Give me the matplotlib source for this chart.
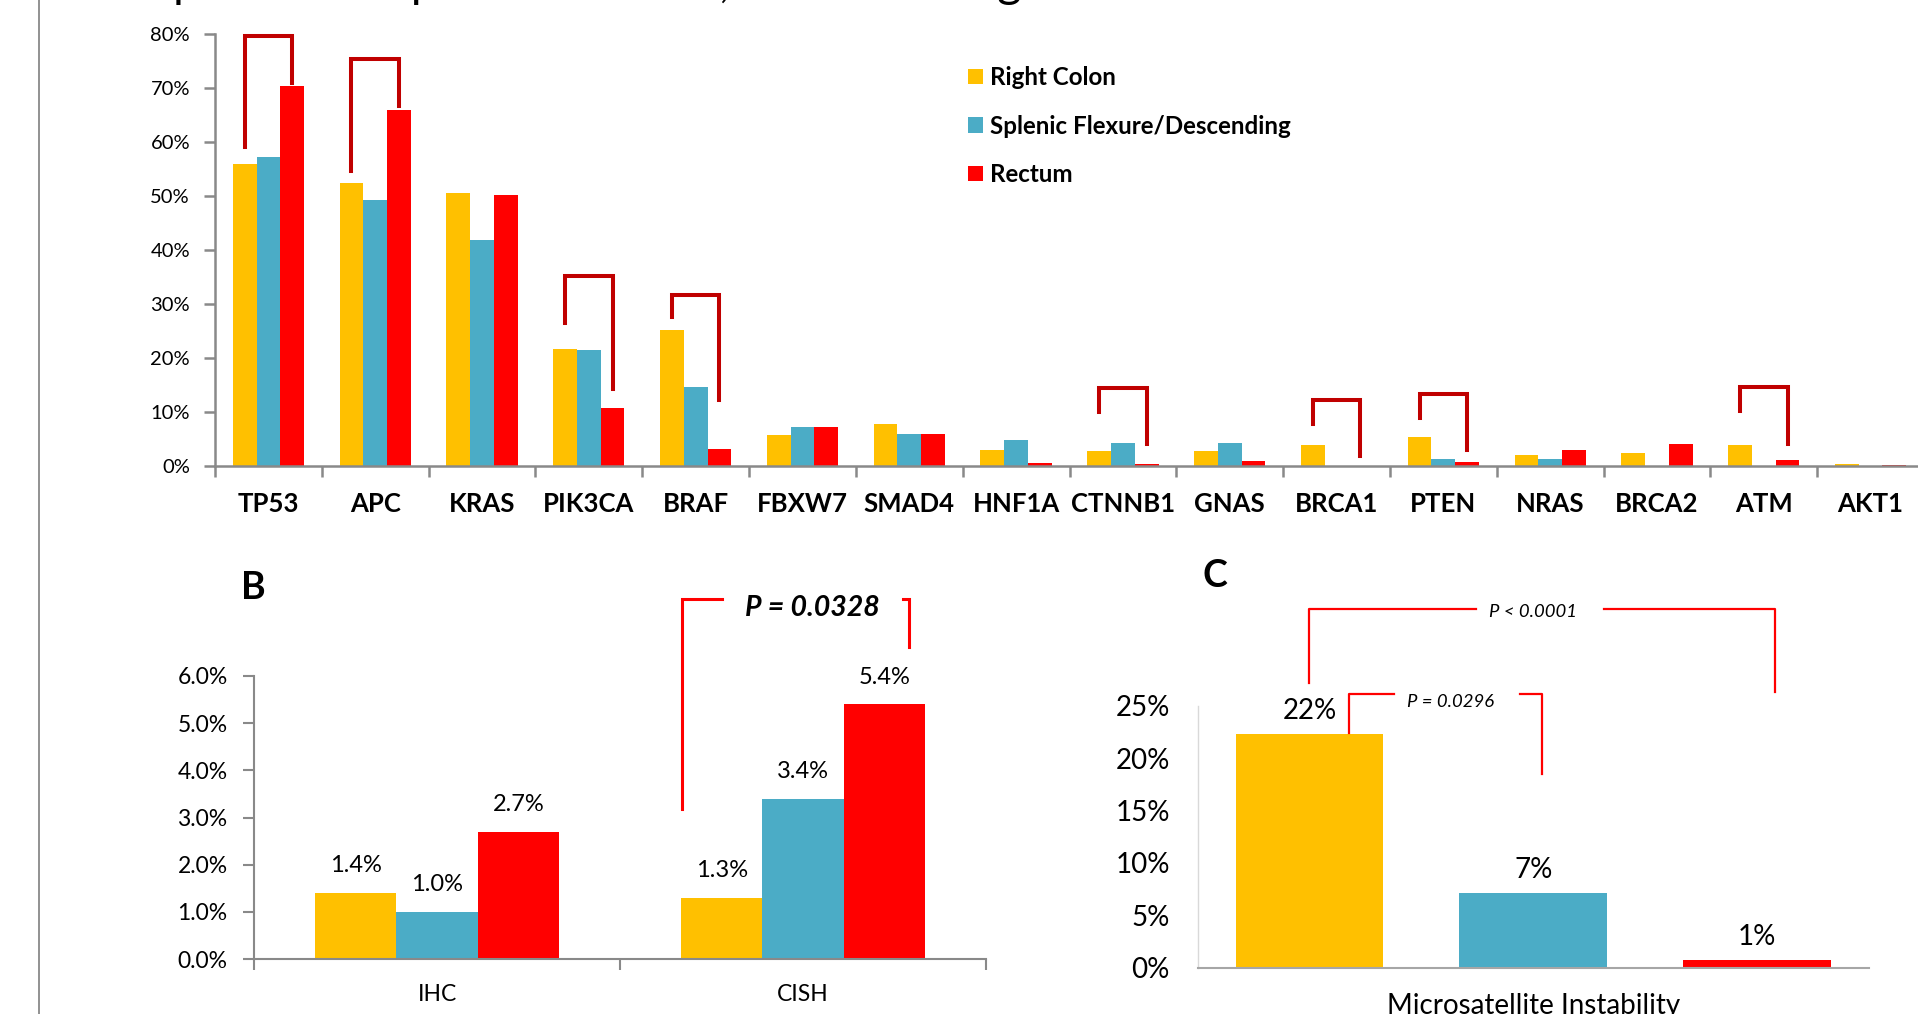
import matplotlib
matplotlib.use("Agg")
import matplotlib.pyplot as plt
import numpy as np
from matplotlib.ticker import FuncFormatter

plt.rcParams['font.family'] = ['Lato', 'DejaVu Sans']

# ---------------- data ----------------
genes = ["TP53", "APC", "KRAS", "PIK3CA", "BRAF", "FBXW7", "SMAD4", "HNF1A",
         "CTNNB1", "GNAS", "BRCA1", "PTEN", "NRAS", "BRCA2", "ATM", "AKT1"]
series_names = ["Right Colon", "Splenic Flexure/Descending", "Rectum"]
right_colon = [55.9, 52.5, 50.5, 21.6, 25.2, 5.7, 7.8, 3.0, 2.7, 2.7, 3.8, 5.3, 2.1, 2.5, 3.9, 0.4]
splenic_desc = [57.3, 49.2, 41.8, 21.5, 14.7, 7.3, 6.0, 4.8, 4.3, 4.3, 0.0, 1.3, 1.3, 0.0, 0.0, 0.0]
rectum = [70.4, 65.9, 50.1, 10.7, 3.1, 7.3, 6.0, 0.6, 0.3, 0.9, 0.0, 0.8, 3.0, 4.1, 1.1, 0.2]

# significance brackets in panel A (gene, left-leg bottom, top, right-leg bottom) in %
bracket_genes = ["TP53", "APC", "PIK3CA", "BRAF", "CTNNB1", "BRCA1", "PTEN", "ATM"]
bracket_left = [59.0, 54.6, 26.5, 27.6, 10.0, 7.8, 8.9, 10.2]
bracket_top = [79.7, 75.3, 35.1, 31.7, 14.4, 12.3, 13.4, 14.6]
bracket_right = [71.0, 66.6, 14.3, 12.3, 4.0, 1.9, 2.9, 4.0]

her2_methods = ["IHC", "CISH"]
her2_right = [1.4, 1.3]
her2_splenic = [1.0, 3.4]
her2_rectum = [2.7, 5.4]
her2_p = "P = 0.0328"

msi_label = "Microsatellite Instability"
msi_values = [22.3, 7.1, 0.7]
msi_text = ["22%", "7%", "1%"]
msi_p_outer = "P < 0.0001"
msi_p_inner = "P = 0.0296"

title_text = "Comparison of specific variants, HER-2 Changes and MSI"

colors = ["#FFC000", "#4BACC6", "#FF0000"]
dark_red = "#C00000"
axis_gray = "#898989"

W, H = 1918, 1014
fig = plt.figure(figsize=(W / 100, H / 100), dpi=100)
renderer = fig.canvas.get_renderer()


def fig_rect(left, top, right, bottom):
    return [left / W, 1 - bottom / H, (right - left) / W, (bottom - top) / H]


def text_width(s, size):
    t = fig.text(0, 0, s, fontsize=size)
    w = t.get_window_extent(renderer).width
    t.remove()
    return w


# ---------------- Panel A ----------------
axA = fig.add_axes(fig_rect(215, 34, 1924, 466))
x = np.arange(len(genes))
bw = 0.2222
for i, (vals, c, name) in enumerate(zip([right_colon, splenic_desc, rectum], colors, series_names)):
    axA.bar(x + (i - 1) * bw, vals, width=bw, color=c, label=name, zorder=2)
axA.set_xlim(-0.5, len(genes) - 0.5)
axA.set_ylim(0, 80)
axA.set_yticks(np.arange(0, 81, 10))
axA.yaxis.set_major_formatter(FuncFormatter(lambda v, p: f"{v:.0f}%"))
axA.set_xticks(x)
axA.set_xticklabels(genes, fontsize=18.5, fontweight='bold')
axA.set_xticks(np.arange(-0.5, len(genes), 1), minor=True)
axA.tick_params(axis='x', which='major', length=0, pad=19)
axA.tick_params(axis='x', which='minor', length=8, width=1.8, color=axis_gray, direction='out')
axA.tick_params(axis='y', length=8, width=1.8, color=axis_gray, labelsize=14.5, pad=10)
for s in ['top', 'right']:
    axA.spines[s].set_visible(False)
for s in ['left', 'bottom']:
    axA.spines[s].set_color(axis_gray)
    axA.spines[s].set_linewidth(1.8)

for g, lb, tp, rb in zip(bracket_genes, bracket_left, bracket_top, bracket_right):
    gi = genes.index(g)
    xl, xr = gi - bw, gi + bw
    axA.plot([xl, xl, xr, xr], [lb, tp, tp, rb], color=dark_red, lw=2.9,
             solid_joinstyle='miter', clip_on=False, zorder=3)

handles, labels = axA.get_legend_handles_labels()
leg = axA.legend(handles, labels, loc='upper left', bbox_to_anchor=(968 / W, 1 - 66 / H),
                 bbox_transform=fig.transFigure, frameon=False,
                 prop={'weight': 'bold', 'size': 17.4}, handlelength=0.6, handleheight=0.6,
                 handletextpad=0.3, labelspacing=1.06, borderpad=0, borderaxespad=0)

# partially visible title at the very top (cropped in the original slide)
t_size = 34
d1 = text_width("Comparison of s", t_size) - text_width("Com", t_size)
t_size = t_size * 238 / d1
x_start = 178 - text_width("Com", t_size) - 5
fig.text(x_start / W, 1 + 3 / H, title_text, fontsize=t_size, ha='left', va='baseline',
         color='black')

# left border line
fig.add_artist(plt.Line2D([39 / W, 39 / W], [0, 1], color='#7F7F7F', lw=1.2,
                          transform=fig.transFigure))

# ---------------- Panel B ----------------
axB = fig.add_axes(fig_rect(254, 676, 986, 959))
xb = np.arange(len(her2_methods))
for i, (vals, c) in enumerate(zip([her2_right, her2_splenic, her2_rectum], colors)):
    bars = axB.bar(xb + (i - 1) * bw, vals, width=bw, color=c, zorder=2)
    for rect, v in zip(bars, vals):
        axB.annotate(f"{v:.1f}%", (rect.get_x() + rect.get_width() / 2, v),
                     xytext=(0, 19.5), textcoords='offset points',
                     ha='center', va='center', fontsize=17)
axB.set_xlim(-0.5, len(her2_methods) - 0.5)
axB.set_ylim(0, 6)
axB.set_yticks(np.arange(0, 6.01, 1))
axB.yaxis.set_major_formatter(FuncFormatter(lambda v, p: f"{v:.1f}%"))
axB.set_xticks(xb)
axB.set_xticklabels(her2_methods, fontsize=16.5)
axB.set_xticks(np.arange(-0.5, len(her2_methods), 1), minor=True)
axB.tick_params(axis='x', which='major', length=0, pad=18)
axB.tick_params(axis='x', which='minor', length=8, width=1.5, color=axis_gray)
axB.tick_params(axis='y', length=8, width=1.5, color=axis_gray, labelsize=16.5, pad=11)
for s in ['top', 'right']:
    axB.spines[s].set_visible(False)
for s in ['left', 'bottom']:
    axB.spines[s].set_color(axis_gray)
    axB.spines[s].set_linewidth(1.5)

axB.plot([0.669, 0.669, 0.779], [3.17, 7.64, 7.64], color='#FF0000', lw=2.2, clip_on=False,
         solid_joinstyle='miter')
axB.plot([1.273, 1.29, 1.29], [7.64, 7.64, 6.62], color='#FF0000', lw=2.2, clip_on=False,
         solid_joinstyle='miter')
axB.text(1.026, 7.45, her2_p, ha='center', va='center', fontsize=20.5,
         fontweight='bold', fontstyle='italic')
fig.text(253 / W, 1 - 588 / H, "B", fontsize=27, fontweight='bold', ha='center', va='center')

# ---------------- Panel C ----------------
axC = fig.add_axes(fig_rect(1197.5, 705.8, 1869, 967.6))
xc = np.arange(len(msi_values))
bars = axC.bar(xc, msi_values, width=0.66, color=colors, zorder=2)
for rect, v, t in zip(bars, msi_values, msi_text):
    axC.annotate(t, (rect.get_x() + rect.get_width() / 2, v), xytext=(0, 16.6),
                 textcoords='offset points', ha='center', va='center', fontsize=20)
axC.set_xlim(-0.5, len(msi_values) - 0.5)
axC.set_ylim(0, 25)
axC.set_yticks(np.arange(0, 26, 5))
axC.yaxis.set_major_formatter(FuncFormatter(lambda v, p: f"{v:.0f}%"))
axC.set_xticks([])
axC.tick_params(axis='y', length=0, labelsize=20, pad=20)
for s in ['top', 'right']:
    axC.spines[s].set_visible(False)
axC.spines['left'].set_color('#D9D9D9')
axC.spines['left'].set_linewidth(1.0)
axC.spines['bottom'].set_color('#A6A6A6')
axC.spines['bottom'].set_linewidth(1.5)
axC.text(1.0, -0.178, msi_label, transform=axC.get_xaxis_transform(), ha='center',
         va='baseline', fontsize=20)

axC.plot([0, 0, 0.746], [27.2, 34.2, 34.2], color='#FF0000', lw=1.6, clip_on=False)
axC.plot([1.314, 2.08, 2.08], [34.2, 34.2, 26.3], color='#FF0000', lw=1.6, clip_on=False)
axC.text(1.0, 34.0, msi_p_outer, ha='center', va='center', fontsize=13.3, fontstyle='italic')
axC.plot([0.175, 0.175, 0.38], [22.4, 26.1, 26.1], color='#FF0000', lw=1.6, clip_on=False)
axC.plot([0.943, 1.04, 1.04], [26.1, 26.1, 18.5], color='#FF0000', lw=1.6, clip_on=False)
axC.text(0.631, 25.4, msi_p_inner, ha='center', va='center', fontsize=13.3, fontstyle='italic')
fig.text(1215 / W, 1 - 576 / H, "C", fontsize=27, fontweight='bold', ha='center', va='center')

fig.savefig("out.png", dpi=100)
